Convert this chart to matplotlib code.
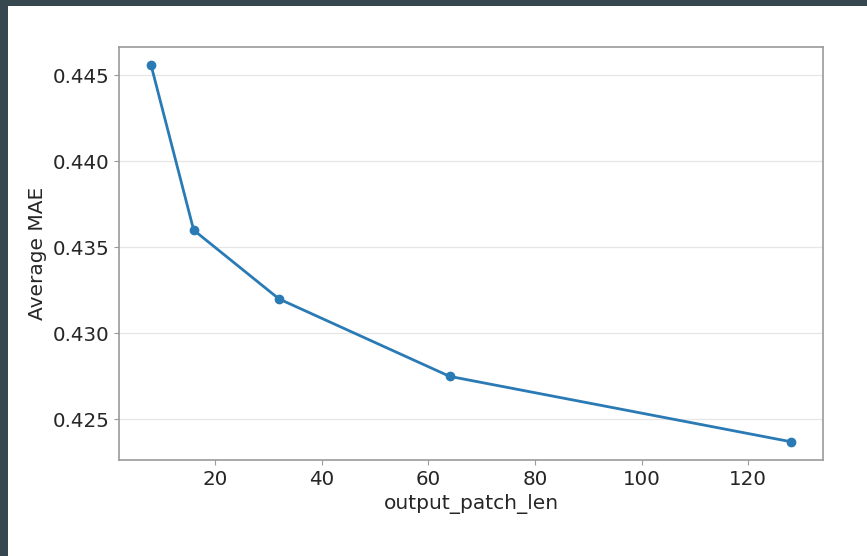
import matplotlib
matplotlib.use("Agg")
import matplotlib.pyplot as plt
from matplotlib.patches import Rectangle

plt.rcParams["font.family"] = ["DejaVu Sans"]

output_patch_len = [8, 16, 32, 64, 128]
average_mae = [0.4456, 0.4360, 0.4320, 0.4275, 0.4237]
x_ticks = [20, 40, 60, 80, 100, 120]
y_ticks = [0.425, 0.430, 0.435, 0.440, 0.445]

W, H = 867, 556
fig = plt.figure(figsize=(W / 100, H / 100), dpi=100)
fig.patch.set_facecolor("white")
border = "#37474f"
fig.patches.append(Rectangle((0, 1 - 6 / H), 1, 6 / H, transform=fig.transFigure,
                             facecolor=border, edgecolor="none", zorder=-1))
fig.patches.append(Rectangle((0, 0), 8 / W, 1, transform=fig.transFigure,
                             facecolor=border, edgecolor="none", zorder=-1))

ax = fig.add_axes([119 / W, (H - 460) / H, 704 / W, 413 / H])
ax.plot(output_patch_len, average_mae, color="#2a7ab5", marker="o",
        markersize=6, linewidth=2)
ax.set_xlim(2, 134)
ax.set_ylim(0.42264, 0.44664)
ax.set_xticks(x_ticks)
ax.set_yticks(y_ticks)
ax.set_yticklabels([f"{v:.3f}" for v in y_ticks])
ax.grid(axis="y", color="#e6e6e6", linewidth=0.9)
ax.set_axisbelow(True)
for s in ax.spines.values():
    s.set_color("#9a9a9a")
    s.set_linewidth(1.2)
ax.tick_params(colors="#9a9a9a", labelcolor="#262626", labelsize=14.3)
ax.set_xlabel("output_patch_len", fontsize=14.5, color="#262626")
ax.set_ylabel("Average MAE", fontsize=14.5, color="#262626")

fig.savefig("out.png", dpi=100)
